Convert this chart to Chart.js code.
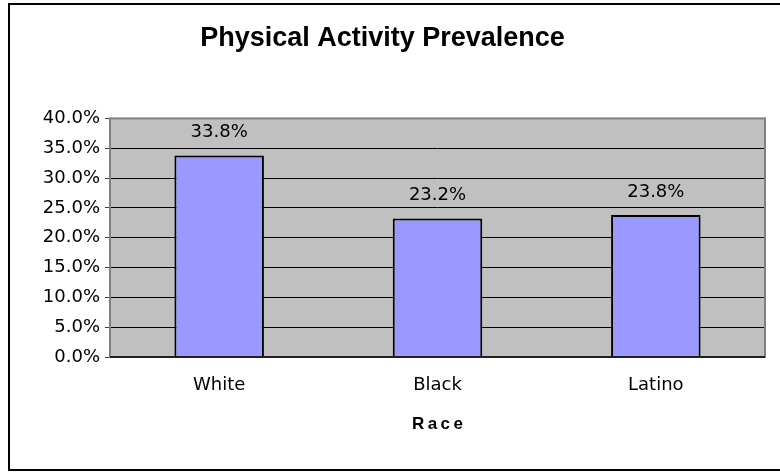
<!DOCTYPE html>
<html>
<head>
<meta charset="utf-8">
<script src="https://cdn.jsdelivr.net/npm/chart.js@4/dist/chart.umd.min.js"></script>
<style>
  html, body { margin: 0; padding: 0; background: #fff; }
  #wrap { width: 780px; height: 472px; }
</style>
</head>
<body>
<div id="wrap"><canvas id="barChart" width="780" height="472"></canvas></div>
<script>
var categories = ["White", "Black", "Latino"];
var prevalence = [33.8, 23.2, 23.8];
var yTicks = [0, 5, 10, 15, 20, 25, 30, 35, 40];

// gray plot background, plot border and outer frame
var frame = {
    id: 'frame',
    beforeDraw: function (chart) {
        var c = chart.ctx, a = chart.chartArea;
        c.save();
        c.fillStyle = '#fff';
        c.fillRect(0, 0, chart.width, chart.height);
        c.fillStyle = '#c0c0c0';
        c.fillRect(a.left, a.top, a.right - a.left, a.bottom - a.top);
        c.restore();
    },
    afterDatasetsDraw: function (chart) {
        var c = chart.ctx, a = chart.chartArea;
        c.save();
        c.strokeStyle = '#808080';
        c.lineWidth = 2;
        c.strokeRect(a.left, a.top, a.right - a.left, a.bottom - a.top);
        c.strokeStyle = '#000';
        c.lineWidth = 1.5;
        c.beginPath();
        c.moveTo(a.left, a.bottom);
        c.lineTo(a.right, a.bottom);
        c.stroke();
        c.strokeStyle = '#000';
        c.lineWidth = 2;
        c.strokeRect(9, 4, 800, 466);
        c.restore();
    }
};

// value labels above the bars
var valueLabels = {
    id: 'valueLabels',
    afterDatasetsDraw: function (chart) {
        var c = chart.ctx;
        var meta = chart.getDatasetMeta(0);
        c.save();
        c.font = '18px "DejaVu Sans"';
        c.fillStyle = '#000';
        c.textAlign = 'center';
        c.textBaseline = 'middle';
        meta.data.forEach(function (bar, i) {
            c.fillText(prevalence[i].toFixed(1) + '%', bar.x, bar.y - 23);
        });
        c.restore();
    }
};

var ctx = document.getElementById("barChart").getContext("2d");
new Chart(ctx, {
    type: 'bar',
    data: {
        labels: categories,
        datasets: [{
            data: prevalence,
            backgroundColor: '#9999ff',
            borderColor: '#000',
            borderWidth: 2,
            barPercentage: 0.41,
            categoryPercentage: 1
        }]
    },
    options: {
        responsive: false,
        animation: false,
        events: [],
        layout: { padding: { left: 0, right: 15, top: 0, bottom: 0 } },
        plugins: {
            legend: { display: false },
            tooltip: { enabled: false },
            title: {
                display: true,
                text: 'Physical Activity Prevalence',
                color: '#000',
                font: { family: '"Liberation Sans", Arial', size: 27, weight: 'bold' },
                padding: { top: 22, bottom: 64 }
            }
        },
        scales: {
            x: {
                grid: { display: false },
                border: { display: false },
                ticks: {
                    color: '#000',
                    padding: 10,
                    font: { family: '"DejaVu Sans"', size: 18 }
                },
                title: {
                    display: true,
                    text: 'R\u2009a\u2009c\u2009e',
                    color: '#000',
                    font: { family: '"Liberation Sans", Arial', size: 17, weight: 'bold' },
                    padding: { top: 0, bottom: 37 }
                },
                afterFit: function (scale) { scale.height = 115; }
            },
            y: {
                min: 0,
                max: 40,
                afterBuildTicks: function (scale) {
                    scale.ticks = yTicks.map(function (v) { return { value: v }; });
                },
                grid: {
                    color: '#000',
                    lineWidth: 1,
                    tickLength: 5,
                    tickColor: '#404040'
                },
                border: { display: false },
                ticks: {
                    color: '#000',
                    padding: 5,
                    font: { family: '"DejaVu Sans"', size: 18 },
                    callback: function (v) { return v.toFixed(1) + '%'; }
                },
                afterFit: function (scale) { scale.width = 110; }
            }
        }
    },
    plugins: [frame, valueLabels]
});
</script>
</body>
</html>
